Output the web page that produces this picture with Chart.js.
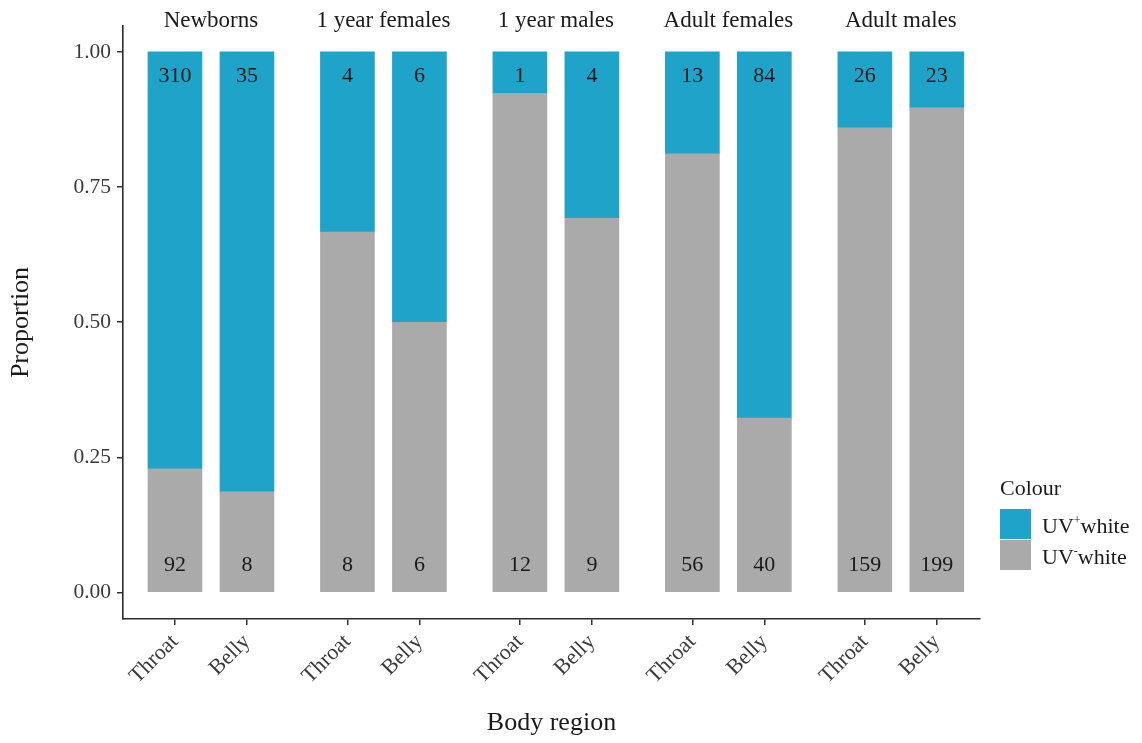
<!DOCTYPE html>
<html>
<head>
<meta charset="utf-8">
<script src="https://cdn.jsdelivr.net/npm/chart.js@4/dist/chart.umd.min.js"></script>
<style>
  html, body { margin: 0; padding: 0; background: #ffffff; }
  #wrap { width: 1142px; height: 743px; }
</style>
</head>
<body>
<div id="wrap"><canvas id="chart" width="1142" height="743"></canvas></div>
<script>
// Age/sex groups (facets) and body regions within each group
const facets = ['Newborns', '1 year females', '1 year males', 'Adult females', 'Adult males'];
const regions = ['Throat', 'Belly'];

// Counts of individuals per colour class, one entry per group
const uvPlusThroat  = [310, 4, 1, 13, 26];
const uvPlusBelly   = [35, 6, 4, 84, 23];
const uvMinusThroat = [92, 8, 12, 56, 159];
const uvMinusBelly  = [8, 6, 9, 40, 199];

// Y axis ticks
const yTicks = [0, 0.25, 0.5, 0.75, 1];

// Layout of the faceted x axis: each group holds two bars one unit apart
const FACET_STEP = 2.396;
const X_MIN = -0.722;
const X_MAX = 4 * FACET_STEP + 1 + 0.6;

const BLUE = '#1fa3c8';
const GREY = '#aaaaaa';
const FONT = "'Liberation Serif', 'Times New Roman', serif";

// Build per-bar rows: group, region, counts and proportions
const bars = [];
facets.forEach((f, fi) => {
  regions.forEach((r, ri) => {
    const plus = ri === 0 ? uvPlusThroat[fi] : uvPlusBelly[fi];
    const minus = ri === 0 ? uvMinusThroat[fi] : uvMinusBelly[fi];
    const total = plus + minus;
    bars.push({ x: fi * FACET_STEP + ri, region: r, plus, minus,
                pPlus: plus / total, pMinus: minus / total });
  });
});
const tickPositions = bars.map(b => b.x);

// Count labels inside bars, facet strip labels and the legend
const annotations = {
  id: 'annotations',
  afterDatasetsDraw(chart) {
    const { ctx, chartArea, scales: { x, y } } = chart;
    ctx.save();
    ctx.fillStyle = '#1a1a1a';
    ctx.font = `22px ${FONT}`;
    ctx.textAlign = 'center';
    ctx.textBaseline = 'middle';
    bars.forEach(b => {
      const px = x.getPixelForValue(b.x);
      ctx.fillText(String(b.plus), px, y.getPixelForValue(0.955));
      ctx.fillText(String(b.minus), px, y.getPixelForValue(0.05));
    });

    // strip labels above each group
    ctx.font = `23px ${FONT}`;
    ctx.textBaseline = 'alphabetic';
    facets.forEach((f, fi) => {
      ctx.fillText(f, x.getPixelForValue(fi * FACET_STEP + 0.5), chartArea.top + 1);
    });

    // legend
    const lx = 1000;
    ctx.textAlign = 'left';
    ctx.fillStyle = '#1a1a1a';
    ctx.font = `22px ${FONT}`;
    ctx.fillText('Colour', lx, 495);
    const items = [
      { color: chart.data.datasets[1].backgroundColor, sup: '+', top: 509 },
      { color: chart.data.datasets[0].backgroundColor, sup: '-', top: 540 }
    ];
    items.forEach(it => {
      ctx.fillStyle = it.color;
      ctx.fillRect(lx, it.top, 31, 30);
      ctx.fillStyle = '#1a1a1a';
      const base = it.top + 24;
      ctx.font = `22px ${FONT}`;
      let tx = lx + 42;
      ctx.fillText('UV', tx, base);
      tx += ctx.measureText('UV').width;
      ctx.font = `12px ${FONT}`;
      ctx.fillText(it.sup, tx, base - 9);
      tx += ctx.measureText(it.sup).width;
      ctx.font = `22px ${FONT}`;
      ctx.fillText('white', tx, base);
    });
    ctx.restore();
  }
};

new Chart(document.getElementById('chart'), {
  type: 'bar',
  data: {
    datasets: [
      {
        label: 'UV- white',
        data: bars.map(b => ({ x: b.x, y: b.pMinus })),
        backgroundColor: GREY,
        borderWidth: 0,
        barThickness: 54
      },
      {
        label: 'UV+ white',
        data: bars.map(b => ({ x: b.x, y: b.pPlus })),
        backgroundColor: BLUE,
        borderWidth: 0,
        barThickness: 54
      }
    ]
  },
  options: {
    responsive: false,
    animation: false,
    devicePixelRatio: 1,
    layout: { padding: { top: 26, right: 162, bottom: 0, left: 0 } },
    plugins: { legend: { display: false }, tooltip: { enabled: false } },
    scales: {
      x: {
        type: 'linear',
        stacked: true,
        offset: false,
        min: X_MIN,
        max: X_MAX,
        afterBuildTicks(scale) { scale.ticks = tickPositions.map(v => ({ value: v })); },
        afterFit(scale) { scale.height = 743 - 619; },
        grid: { display: true, offset: false, drawOnChartArea: false, drawTicks: true, tickLength: 6, color: '#333333', lineWidth: 1.5 },
        border: { display: true, color: '#2b2b2b', width: 1.6 },
        ticks: {
          autoSkip: false,
          minRotation: 45,
          maxRotation: 45,
          padding: 4,
          color: '#3a3a3a',
          font: { family: FONT, size: 22 },
          callback(value) {
            const i = tickPositions.findIndex(v => Math.abs(v - value) < 1e-6);
            return i >= 0 ? bars[i].region : '';
          }
        },
        title: {
          display: true,
          text: 'Body region',
          color: '#1a1a1a',
          font: { family: FONT, size: 26 },
          padding: { top: 0, bottom: 4 }
        }
      },
      y: {
        stacked: true,
        min: -0.049,
        max: 1.048,
        afterBuildTicks(scale) { scale.ticks = yTicks.map(v => ({ value: v })); },
        afterFit(scale) { scale.width = 123; },
        grid: { display: true, drawOnChartArea: false, drawTicks: true, tickLength: 6, color: '#333333', lineWidth: 1.5 },
        border: { display: true, color: '#2b2b2b', width: 1.6 },
        ticks: {
          padding: 6,
          color: '#3a3a3a',
          font: { family: FONT, size: 21.5 },
          callback(value) { return Number(value).toFixed(2); }
        },
        title: {
          display: true,
          text: 'Proportion',
          color: '#1a1a1a',
          font: { family: FONT, size: 26 },
          padding: { top: 6, bottom: 0 }
        }
      }
    }
  },
  plugins: [annotations]
});
</script>
</body>
</html>
